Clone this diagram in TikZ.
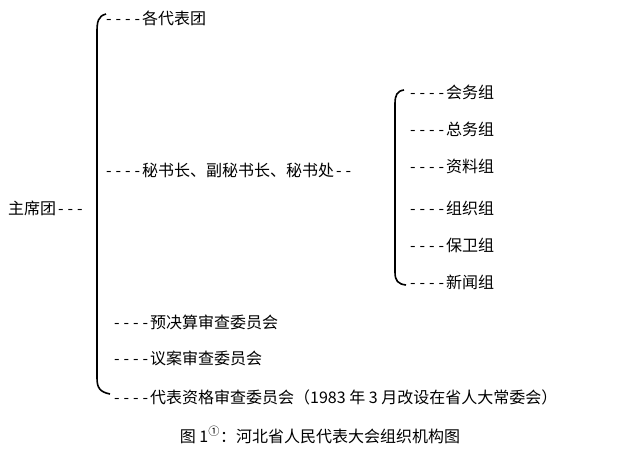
\documentclass[tikz,border=0pt]{standalone}
\usepackage{fontspec}
\setmainfont{Noto Sans CJK SC}
\newcommand{\dsh}{\makebox[9.5pt]{-}}
\newcommand{\dfour}{\dsh\dsh\dsh\dsh}
\begin{document}
\begin{tikzpicture}[x=1pt,y=-1pt,every node/.style={anchor=west,inner sep=0pt,font=\fontsize{16}{16}\selectfont}]
    \useasboundingbox (0,0) rectangle (633,464);
    % big bracket
    \draw[line width=1.6pt] (106,14) .. controls (98,16) and (97,22) .. (97,32) -- (97,378) .. controls (97,388) and (100,392) .. (110,394);
    % small bracket
    \draw[line width=1.6pt] (404,90) .. controls (397,91) and (395,95) .. (395,104) -- (395,272) .. controls (395,281) and (398,284) .. (406,285);
    \node (root) at (8,208) {主席团\dsh\dsh\dsh};
    \node (dbt) at (104,18) {\dfour 各代表团};
    \node (msc) at (104,170) {\dfour 秘书长、副秘书长、秘书处\dsh\dsh};
    \node (hwz) at (408,92) {\dfour 会务组};
    \node (zwz) at (408,129) {\dfour 总务组};
    \node (zlz) at (408,166) {\dfour 资料组};
    \node (zzz) at (408,208) {\dfour 组织组};
    \node (bwz) at (408,245) {\dfour 保卫组};
    \node (xwz) at (408,282) {\dfour 新闻组};
    \node (ysh) at (112,322) {\dfour 预决算审查委员会};
    \node (yah) at (112,358) {\dfour 议案审查委员会};
    \node (dbz) at (112,397) {\dfour 代表资格审查委员会（1983 年 3 月改设在省人大常委会）};
    \node[anchor=center] (cap) at (320,435) {图 1\textsuperscript{①}：河北省人民代表大会组织机构图};
\end{tikzpicture}
\end{document}
